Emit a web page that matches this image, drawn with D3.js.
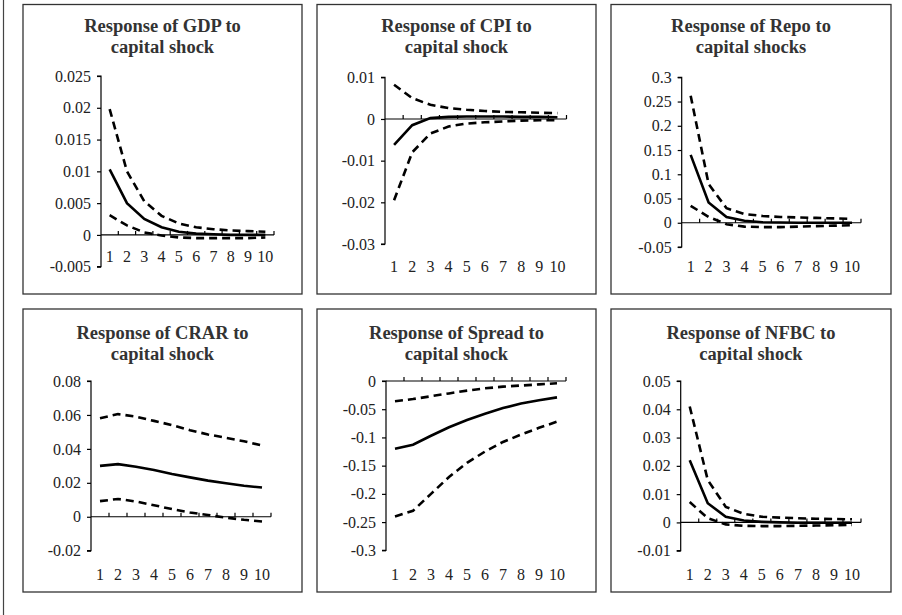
<!DOCTYPE html>
<html>
<head>
<meta charset="utf-8">
<script src="https://cdn.jsdelivr.net/npm/d3@7"></script>
<style>
  body { margin: 0; background: #fff; }
  svg { display: block; }
</style>
</head>
<body>
<div id="chart"></div>
<script>
// periods after the shock
var periods = [1, 2, 3, 4, 5, 6, 7, 8, 9, 10];

// GDP
var gdpUpper = [0.0198, 0.0100, 0.0053, 0.0030, 0.0018, 0.0012, 0.0009, 0.0007, 0.0006, 0.0005];
var gdpIrf   = [0.0103, 0.0050, 0.0025, 0.0012, 0.0005, 0.0002, 0.0001, 0.0000, 0.0000, 0.0000];
var gdpLower = [0.0031, 0.0015, 0.0004, -0.0001, -0.0004, -0.0005, -0.0005, -0.0005, -0.0005, -0.0004];
var gdpTicks = [-0.005, 0, 0.005, 0.01, 0.015, 0.02, 0.025];

// CPI
var cpiUpper = [0.0082, 0.0050, 0.0034, 0.0026, 0.0022, 0.0019, 0.0017, 0.0016, 0.0015, 0.0014];
var cpiIrf   = [-0.0062, -0.0015, 0.0002, 0.0005, 0.0006, 0.0006, 0.0006, 0.0005, 0.0005, 0.0004];
var cpiLower = [-0.0195, -0.0080, -0.0035, -0.0018, -0.0011, -0.0008, -0.0006, -0.0004, -0.0003, -0.0003];
var cpiTicks = [-0.03, -0.02, -0.01, 0, 0.01];

// Repo
var repoUpper = [0.262, 0.080, 0.030, 0.018, 0.014, 0.012, 0.011, 0.010, 0.009, 0.008];
var repoIrf   = [0.140, 0.042, 0.012, 0.004, 0.001, 0.0005, 0, 0, 0, 0];
var repoLower = [0.035, 0.012, -0.003, -0.008, -0.009, -0.009, -0.008, -0.007, -0.006, -0.005];
var repoTicks = [-0.05, 0, 0.05, 0.1, 0.15, 0.2, 0.25, 0.3];

// CRAR
var crarUpper = [0.058, 0.0605, 0.059, 0.0565, 0.054, 0.051, 0.0485, 0.0465, 0.0445, 0.042];
var crarIrf   = [0.030, 0.031, 0.0295, 0.0275, 0.0252, 0.0232, 0.0213, 0.0197, 0.0183, 0.0172];
var crarLower = [0.0092, 0.0105, 0.009, 0.0068, 0.0045, 0.0025, 0.001, -0.0005, -0.0018, -0.0028];
var crarTicks = [-0.02, 0, 0.02, 0.04, 0.06, 0.08];

// Spread
var spreadUpper = [-0.036, -0.032, -0.027, -0.022, -0.017, -0.013, -0.010, -0.008, -0.006, -0.004];
var spreadIrf   = [-0.120, -0.113, -0.097, -0.082, -0.069, -0.058, -0.048, -0.040, -0.034, -0.029];
var spreadLower = [-0.240, -0.230, -0.200, -0.170, -0.145, -0.125, -0.108, -0.095, -0.083, -0.072];
var spreadTicks = [-0.3, -0.25, -0.2, -0.15, -0.1, -0.05, 0];

// NFBC
var nfbcUpper = [0.041, 0.015, 0.0055, 0.003, 0.002, 0.0017, 0.0015, 0.0013, 0.0012, 0.0011];
var nfbcIrf   = [0.022, 0.0068, 0.002, 0.0007, 0.0002, 0, -0.0001, -0.0001, -0.0001, -0.0001];
var nfbcLower = [0.0072, 0.0015, -0.0007, -0.0012, -0.0013, -0.0013, -0.0012, -0.0011, -0.0010, -0.0009];
var nfbcTicks = [-0.01, 0, 0.01, 0.02, 0.03, 0.04, 0.05];

var svgWidth = 902;
var svgHeight = 615;
var serif = "'Liberation Serif', 'Times New Roman', Times, serif";

// panel boxes and plot areas (absolute pixels)
var panels = [
  { title: ["Response of GDP to", "capital shock"], upper: gdpUpper, irf: gdpIrf, lower: gdpLower, ticks: gdpTicks,
    box: [23, 4.5, 302, 294], titleY: 31.5, x0: 101, x1: 274, y0: 76, y1: 266.7, labelsNextToAxis: true },
  { title: ["Response of CPI to", "capital shock"], upper: cpiUpper, irf: cpiIrf, lower: cpiLower, ticks: cpiTicks,
    box: [317, 4.5, 596, 294], titleY: 31.5, x0: 385, x1: 566.5, y0: 77.3, y1: 244, labelY: 266.7 },
  { title: ["Response of Repo to", "capital shocks"], upper: repoUpper, irf: repoIrf, lower: repoLower, ticks: repoTicks,
    box: [611, 4.5, 891, 294], titleY: 31.5, x0: 681.7, x1: 861, y0: 77.3, y1: 247, labelY: 266.7 },
  { title: ["Response of CRAR to", "capital shock"], upper: crarUpper, irf: crarIrf, lower: crarLower, ticks: crarTicks,
    box: [23, 309, 302, 592], titleY: 338.5, x0: 91, x1: 271, y0: 381, y1: 550.7, labelY: 574 },
  { title: ["Response of Spread to", "capital shock"], upper: spreadUpper, irf: spreadIrf, lower: spreadLower, ticks: spreadTicks,
    box: [317, 309, 596, 592], titleY: 338.5, x0: 386, x1: 566, y0: 381, y1: 550.3, labelY: 574 },
  { title: ["Response of NFBC to", "capital shock"], upper: nfbcUpper, irf: nfbcIrf, lower: nfbcLower, ticks: nfbcTicks,
    box: [611, 309, 891, 592], titleY: 338.5, x0: 680.7, x1: 861, y0: 381, y1: 550.7, labelY: 574 }
];

var svg = d3.select("#chart")
  .append("svg")
  .attr("width", svgWidth)
  .attr("height", svgHeight);

// thin frame line on the left edge
svg.append("line")
  .attr("x1", 3.5).attr("x2", 3.5)
  .attr("y1", 0).attr("y2", svgHeight)
  .attr("stroke", "#444")
  .attr("stroke-width", 1.2);

panels.forEach(function(p) {
  var g = svg.append("g");

  g.append("rect")
    .attr("x", p.box[0])
    .attr("y", p.box[1])
    .attr("width", p.box[2] - p.box[0])
    .attr("height", p.box[3] - p.box[1])
    .attr("fill", "#fff")
    .attr("stroke", "#333")
    .attr("stroke-width", 1.3);

  var cx = (p.box[0] + p.box[2]) / 2;
  g.selectAll(".title")
    .data(p.title)
    .enter()
    .append("text")
    .attr("class", "title")
    .attr("x", cx)
    .attr("y", (d, i) => p.titleY + i * 21.5)
    .attr("text-anchor", "middle")
    .style("font-family", serif)
    .style("font-weight", "bold")
    .style("font-size", "18.5px")
    .style("fill", "#333")
    .text(d => d);

  var xScale = d3.scaleBand()
    .domain(periods)
    .range([p.x0, p.x1]);

  var yScale = d3.scaleLinear()
    .domain(d3.extent(p.ticks))
    .range([p.y1, p.y0]);

  var bw = xScale.bandwidth();
  var zeroY = yScale(0);

  // y axis
  var leftAxis = d3.axisLeft(yScale)
    .tickValues(p.ticks)
    .tickFormat(d => String(d))
    .tickSize(4)
    .tickPadding(6);

  var yAxis = g.append("g")
    .attr("transform", `translate(${p.x0}, 0)`)
    .call(leftAxis);
  yAxis.select(".domain").attr("d", `M-4,${p.y0}H0V${p.y1}H-4`).attr("stroke", "#000").attr("stroke-width", 1.2);
  yAxis.selectAll(".tick line").attr("stroke", "#000").attr("stroke-width", 1.2);
  yAxis.selectAll(".tick text")
    .attr("fill", "#222")
    .style("font-family", serif)
    .style("font-size", "16px");

  // category axis along zero
  g.append("line")
    .attr("x1", p.x0).attr("x2", p.x1)
    .attr("y1", zeroY).attr("y2", zeroY)
    .attr("stroke", "#000")
    .attr("stroke-width", 1.2);

  g.selectAll(".xtick")
    .data(periods)
    .enter()
    .append("line")
    .attr("x1", d => xScale(d) + bw)
    .attr("x2", d => xScale(d) + bw)
    .attr("y1", zeroY - 4)
    .attr("y2", zeroY)
    .attr("stroke", "#000")
    .attr("stroke-width", 1.2);

  var labelY = p.labelsNextToAxis ? zeroY + 21 : p.labelY;
  g.selectAll(".xlabel")
    .data(periods)
    .enter()
    .append("text")
    .attr("x", d => xScale(d) + bw / 2)
    .attr("y", labelY)
    .attr("dy", "0.35em")
    .attr("text-anchor", "middle")
    .attr("fill", "#222")
    .style("font-family", serif)
    .style("font-size", "16px")
    .text(d => d);

  var line = d3.line()
    .x((d, i) => xScale(periods[i]) + bw / 2)
    .y(d => yScale(d));

  [p.upper, p.lower].forEach(function(s) {
    g.append("path")
      .attr("d", line(s))
      .attr("fill", "none")
      .attr("stroke", "#000")
      .attr("stroke-width", 2.6)
      .attr("stroke-dasharray", "8,5");
  });

  g.append("path")
    .attr("d", line(p.irf))
    .attr("fill", "none")
    .attr("stroke", "#000")
    .attr("stroke-width", 2.6);
});
</script>
</body>
</html>
